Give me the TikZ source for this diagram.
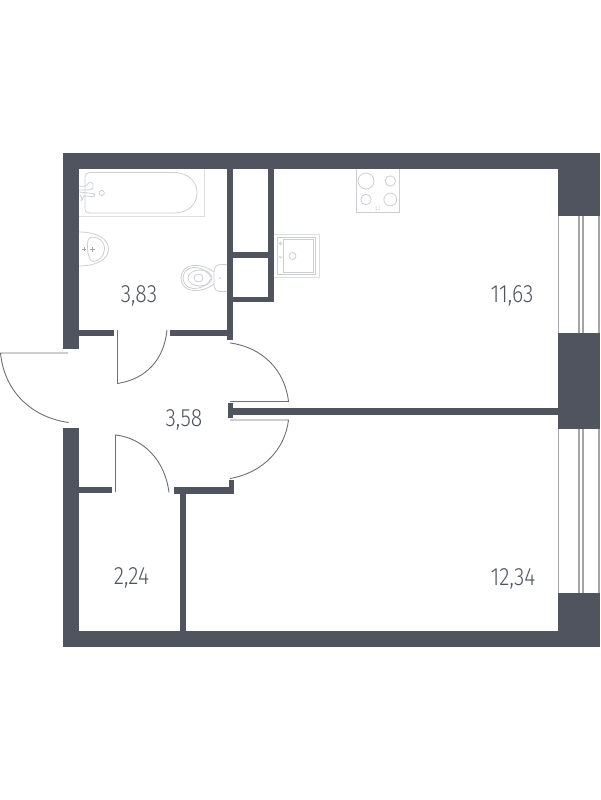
\documentclass[tikz,border=0pt]{standalone}
\usepackage{fontspec}
\setmainfont{Fira Sans Light}[FakeStretch=0.85]
\definecolor{wallc}{HTML}{50545F}
\definecolor{fixc}{HTML}{CDCED2}
\definecolor{doorc}{HTML}{6E7079}
\definecolor{winc}{HTML}{A3A5AB}
\tikzset{
  wall/.style={fill=wallc,draw=none},
  door/.style={draw=doorc,line width=0.9pt},
  fixture/.style={draw=fixc,line width=0.8pt},
  fixturepale/.style={draw=fixc!70,line width=0.8pt},
  win/.style={draw=winc,line width=1.4pt},
  area/.style={text=wallc,font=\fontsize{25}{25}\selectfont,inner sep=0pt,anchor=center}
}
\begin{document}
\begin{tikzpicture}[x=1pt,y=-1pt]
\useasboundingbox (0,0) rectangle (600,800);
% outer walls
\fill[wall] (63,153) rectangle (600,169);
\fill[wall] (63,153) rectangle (79,349);
\fill[wall] (63,428) rectangle (79,647);
\fill[wall] (63,631) rectangle (600,647);
\fill[wall] (558,153) rectangle (600,216);
\fill[wall] (558,333) rectangle (600,429);
\fill[wall] (558,593) rectangle (600,647);
% windows
\foreach \a/\b in {216/333,429/593}{
  \draw[win] (558.7,\a) -- (558.7,\b);
  \draw[win] (579,\a) -- (579,\b);
  \draw[win] (583,\a) -- (583,\b);
  \draw[win] (599,\a) -- (599,\b);
}
% inner walls
\fill[wall] (227,169) rectangle (233,340);
\fill[wall] (268,169) rectangle (274,302);
\fill[wall] (233,252) rectangle (268,258);
\fill[wall] (233,297) rectangle (274,302);
\fill[wall] (79,330) rectangle (114,336);
\fill[wall] (170,330) rectangle (227,336);
\fill[wall] (228,403) rectangle (233,418);
\fill[wall] (233,408) rectangle (558,414.5);
\fill[wall] (79,487) rectangle (112,493);
\fill[wall] (174,487) rectangle (234,493.5);
\fill[wall] (228.5,480) rectangle (234,493.5);
\fill[wall] (180,493) rectangle (186,631);
% doors
\draw[door] (117.5,330) -- (117.5,383.5) .. controls (146,379) and (164,360) .. (167,330);
\draw[door] (68,353) -- (0.5,353) .. controls (4,390) and (30,417) .. (68.5,422.5);
\draw[door] (230,343) .. controls (262,347) and (285,370) .. (288.5,401.5) -- (230,401.5);
\draw[door] (230,420) -- (288.5,420) .. controls (285,450) and (262,473) .. (230,478.5);
\draw[door] (115.5,492) -- (115.5,435) .. controls (143,438) and (165,460) .. (169,492.5);
% bath
\draw[fixturepale] (79,216) -- (204,216) -- (204,169);
\draw[fixture] (90,172.5) -- (173,172.5) .. controls (190,172.5) and (197,183) .. (197,192.5)
  .. controls (197,203) and (190,213) .. (173,213) -- (89,213) .. controls (86,213) and (85,211) .. (85,209)
  -- (85,177) .. controls (85,174) and (87,172.5) .. (90,172.5);
\draw[fixture] (101.7,193) circle (2.6);
\draw[fixture] (79,186) .. controls (84,187) and (87,186) .. (88,183.5) .. controls (90,181) and (93,182) .. (93,185) .. controls (94,189) and (91,190) .. (87,190) -- (79,190);
\draw[fixture] (79,192) -- (93,193.5) .. controls (96,195) and (95,197) .. (92,196.5) -- (84,196) -- (81,201);
\draw[fixture] (80,195) -- (83,200);
% basin
\draw[fixture] (79,232) .. controls (97,232) and (108.5,239) .. (108.5,249) .. controls (108.5,259) and (97,266) .. (79,266);
\draw[fixture] (92,237) .. controls (99,237) and (104.5,241) .. (104.5,249) .. controls (104.5,256) and (98,262) .. (93,261.5) .. controls (90,261) and (88,256) .. (87.5,249) .. controls (87,242) and (88,237) .. (92,237);
\draw[fixture,draw=gray!70] (82,249) -- (86,249) (84,247) -- (84,251) (90,249) -- (94.5,249) (92,247) -- (92,251.5);
% toilet
\draw[fixture] (227,264.5) -- (220,264.5) .. controls (216,265) and (214,268) .. (214,271) -- (214,285) .. controls (214,289) and (217,291.5) .. (220,291.5) -- (227,291.5);
\draw[fixture] (214,272) .. controls (206,266) and (198,265) .. (193,265.5) .. controls (186,266) and (181,271) .. (181,278) .. controls (181,285) and (186,290) .. (193,290.5) .. controls (198,291) and (206,290) .. (214,284);
\draw[fixture] (211,277.5) .. controls (206,268) and (197,267.5) .. (193,267.5) .. controls (187,268) and (183,273) .. (183,278) .. controls (183,283) and (187,288) .. (193,288.5) .. controls (197,288.5) and (206,288) .. (211,278.5);
\draw[fixture] (200,278) ellipse (12 and 8);
\draw[fixture] (198.5,278) ellipse (4.5 and 4);
\fill[fixc] (220,278) circle (1);
% hob
\draw[fixture] (356.5,169) -- (356.5,212.5) -- (399.5,212.5) -- (399.5,169);
\draw[fixture] (366,181) circle (8);
\draw[fixture] (390.3,181) circle (5.2);
\draw[fixture] (366,199.5) circle (5.2);
\draw[fixture] (390.3,199.5) circle (6.4);
\foreach \p in {(376,207),(379,207),(376,209.5),(379,209.5)}{\fill[gray!80] \p circle (0.5);}
% kitchen sink
\draw[fixturepale] (274,234.5) -- (319,234.5) -- (319,277) -- (274,277);
\draw[fixture] (277.5,237.5) rectangle (315.5,274.5);
\draw[fixture,line width=1pt] (283.5,239.5) rectangle (313.5,272.5);
\draw[fixture] (292.5,256) circle (3.5);
\draw[fixture] (280.5,243.5) circle (1.3);
\draw[fixture] (279.2,256.5) arc (180:0:1.3);
% areas
\node[area] (a1) at (139,296) {3,83};
\node[area] (a2) at (184,420) {3,58};
\node[area] (a3) at (131.5,577.5) {2,24};
\node[area] (a4) at (512,296) {11,63};
\node[area] (a5) at (513,579) {12,34};
\end{tikzpicture}
\end{document}
